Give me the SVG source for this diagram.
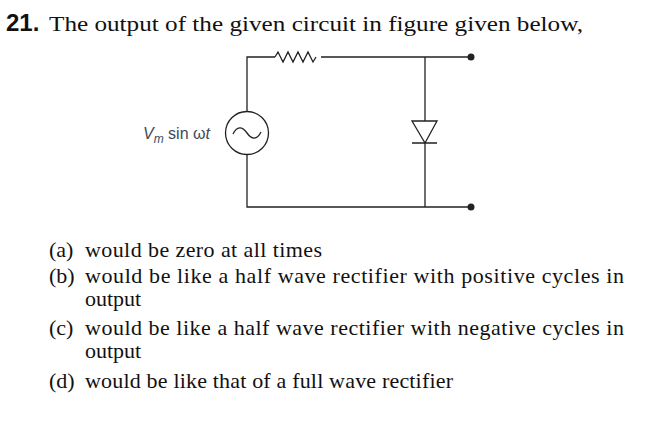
<svg xmlns="http://www.w3.org/2000/svg" width="660" height="432" viewBox="0 0 660 432">
<style>
.w{fill:none;stroke:#222;stroke-width:1.3}
.t{font-family:"Liberation Serif",serif;font-size:22px;fill:#111}
.l{font-family:"Liberation Sans",sans-serif;font-size:16px;fill:#3d4a5a}
</style>
<rect width="660" height="432" fill="#fff"/>
<text x="6" y="31" font-family="Liberation Sans,sans-serif" font-weight="bold" font-size="24" fill="#111">21.</text>
<text x="49" y="31" class="t" font-size="25" textLength="534" lengthAdjust="spacingAndGlyphs">The output of the given circuit in figure given below,</text>
<g id="connectors">
<path class="w" d="M247,112 V57 H275 M321,57 H470 M247,155 V207 H470 M425,57 V121 M425,143 V207"/>
</g>
<g id="resistor"><path class="w" d="M275,57 l3,-5 l5,10 l5,-10 l5,10 l5,-10 l5,10 l5,-10 l5,10 l3,-5"/></g>
<g id="source">
<circle class="w" cx="247" cy="133" r="21.5"/>
<path class="w" d="M233,134 c4,-8 9,-8 14,-1 c5,7 10,7 14,-1"/>
<text class="l" x="143" y="139"><tspan font-style="italic">V</tspan><tspan font-style="italic" font-size="12" dy="4">m</tspan><tspan dy="-4"> sin </tspan><tspan>ω</tspan><tspan font-style="italic">t</tspan></text>
</g>
<g id="diode"><path class="w" d="M412,121 H437 L425,143 Z M412,143 H437"/></g>
<g id="terminals"><circle cx="471" cy="57" r="3.5" fill="#222"/><circle cx="471" cy="207" r="3.5" fill="#222"/></g>
<text class="t" x="49" y="257">(a)</text><text class="t" x="85" y="257" textLength="237">would be zero at all times</text>
<text class="t" x="49" y="283">(b)</text><text class="t" x="85" y="283" textLength="539">would be like a half wave rectifier with positive cycles in</text>
<text class="t" x="85" y="306">output</text>
<text class="t" x="49" y="335">(c)</text><text class="t" x="85" y="335" textLength="539">would be like a half wave rectifier with negative cycles in</text>
<text class="t" x="85" y="358">output</text>
<text class="t" x="49" y="388">(d)</text><text class="t" x="85" y="388" textLength="368">would be like that of a full wave rectifier</text>
</svg>
